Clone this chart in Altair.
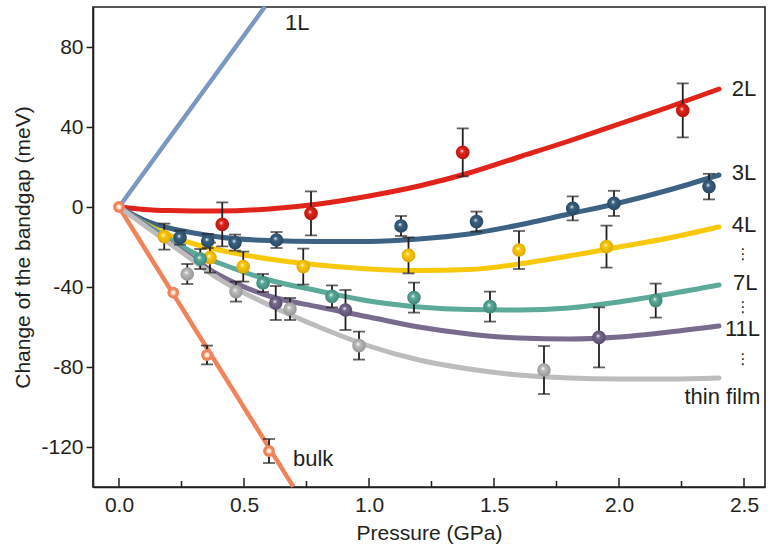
import altair as alt
import pandas as pd

# ---------------- data ----------------
curve_x = [0, 0.1, 0.2, 0.3, 0.4, 0.6, 0.8, 1.0, 1.2, 1.4, 1.6, 1.8, 2.0, 2.2, 2.4]
curve_2L = [0, -1.2, -1.8, -2, -2, -1, 1.5, 5.5, 10.5, 17, 25, 33, 41.5, 50, 59]
curve_3L = [0, -6.5, -10.5, -13, -15, -16.8, -17.3, -17.2, -16, -13.5, -9, -3.5, 2, 8.5, 16]
curve_4L = [0, -8, -14, -18.5, -21.5, -26, -29, -31, -31.8, -31.3, -28.5, -24.5, -20, -15.5, -10]
curve_7L = [0, -8, -16, -23, -28, -36.5, -42, -47, -50, -51.3, -51.5, -50.5, -47.5, -43.5, -39]
curve_11L = [0, -8.5, -17.5, -26, -34, -44.5, -50, -55, -60, -63.5, -65.5, -66, -65, -62.5, -59.5]
curve_film = [0, -9, -18, -27, -36, -49, -60, -69.5, -76.5, -81, -84, -85.5, -86, -86, -85.5]

line_1L_x = [0, 0.58]
line_1L_y = [0, 99.5]
line_bulk_x = [0, 0.697]
line_bulk_y = [0, -139.8]

pts_2L_x = [0.413, 0.768, 1.375, 2.255]
pts_2L_y = [-8.7, -3.2, 27.3, 48.3]
pts_2L_e = [11, 11, 12, 13.5]

pts_3L_x = [0.244, 0.355, 0.464, 0.63, 1.128, 1.43, 1.815, 1.98, 2.36]
pts_3L_y = [-15.3, -17, -17.8, -16.5, -9.5, -7.3, -0.7, 1.8, 10.2]
pts_3L_e = [3.5, 3.5, 4, 4, 5, 5, 6, 6.3, 6.4]

pts_4L_x = [0.181, 0.364, 0.497, 0.737, 1.158, 1.6, 1.95]
pts_4L_y = [-14.8, -25.3, -29.8, -29.8, -24.2, -21.5, -19.8]
pts_4L_e = [6.5, 7.5, 7.5, 9, 9, 9.5, 10.5]

pts_7L_x = [0.325, 0.576, 0.852, 1.18, 1.484, 2.147]
pts_7L_y = [-26, -38, -44.7, -45.3, -49.8, -46.8]
pts_7L_e = [5, 4.5, 5.5, 7.5, 7.5, 8.5]

pts_11L_x = [0.627, 0.906, 1.92]
pts_11L_y = [-48, -51.5, -65.2]
pts_11L_e = [8.5, 10, 15]

pts_film_x = [0.273, 0.468, 0.684, 0.96, 1.7]
pts_film_y = [-33.5, -42.3, -51, -69.3, -81.5]
pts_film_e = [5, 5, 5.5, 7, 12]

pts_bulk_x = [0, 0.217, 0.352, 0.6]
pts_bulk_y = [0, -42.8, -74, -122]
pts_bulk_e = [0, 0, 4.7, 6]

label_text = ["1L", "2L", "3L", "4L", "7L", "11L", "thin film", "bulk"]
label_x = [0.664, 2.451, 2.451, 2.451, 2.456, 2.424, 2.262, 0.696]
label_y = [91.8, 59, 17.2, -9, -38.2, -61, -95.2, -126]

dots_x = [2.496, 2.496, 2.496]
dots_y = [-23.5, -50, -76]

x_major = [0, 0.5, 1.0, 1.5, 2.0, 2.5]
x_minor = [0.25, 0.75, 1.25, 1.75, 2.25]
y_ticks = [-120, -80, -40, 0, 40, 80]

series = ["2L", "3L", "4L", "7L", "11L", "thin film"]
line_colors = ["#e2231a", "#3d6283", "#f8c90a", "#5daa9b", "#786b8e", "#bcbcbc"]
ball_dark = ["#a8140e", "#22405a", "#d9a000", "#367d70", "#4f4466", "#8c8c8c"]
color_1L = "#7b98c2"
color_bulk = "#ef835a"
ink = "#231f20"

# ---------------- geometry ----------------
W, H = 672, 480
xs = alt.Scale(domain=[-0.104, 2.584], nice=False, zero=False)
ys = alt.Scale(domain=[-140, 100], nice=False, zero=False)
FONT = "Liberation Sans"

curves = [curve_2L, curve_3L, curve_4L, curve_7L, curve_11L, curve_film]
cdf = pd.DataFrame(
    [{"s": s, "x": x, "y": y} for s, c in zip(series, curves) for x, y in zip(curve_x, c)]
)

X = alt.X("x:Q", scale=xs, axis=alt.Axis(
    values=x_major, format=".1f", ticks=False, labelPadding=7,
    title="Pressure (GPa)", titleY=46, titleBaseline="middle"))
Y = alt.Y("y:Q", scale=ys, axis=alt.Axis(
    values=y_ticks, tickSize=7, labelPadding=3, labelExpr="'' + datum.value",
    title="Change of the bandgap (meV)", titleX=-70, titleY=240,
    titleBaseline="middle", titleAlign="center"))

layers = []

lines_1L = alt.Chart(pd.DataFrame({"x": line_1L_x, "y": line_1L_y})).mark_line(
    color=color_1L, strokeWidth=4.5, strokeCap="round").encode(x=X, y=Y)
lines_bulk = alt.Chart(pd.DataFrame({"x": line_bulk_x, "y": line_bulk_y})).mark_line(
    color=color_bulk, strokeWidth=4.5, strokeCap="butt").encode(x="x:Q", y="y:Q")
layers += [lines_1L, lines_bulk]

curve_layer = alt.Chart(cdf).mark_line(
    strokeWidth=5, interpolate="monotone", strokeCap="round").encode(
    x="x:Q", y="y:Q",
    color=alt.Color("s:N", scale=alt.Scale(domain=series, range=line_colors), legend=None))
layers.append(curve_layer)

pts = {
    "2L": (pts_2L_x, pts_2L_y, pts_2L_e),
    "3L": (pts_3L_x, pts_3L_y, pts_3L_e),
    "4L": (pts_4L_x, pts_4L_y, pts_4L_e),
    "7L": (pts_7L_x, pts_7L_y, pts_7L_e),
    "11L": (pts_11L_x, pts_11L_y, pts_11L_e),
    "thin film": (pts_film_x, pts_film_y, pts_film_e),
    "bulk": (pts_bulk_x, pts_bulk_y, pts_bulk_e),
}
rows = []
for s, (px, py, pe) in pts.items():
    for x, y, e in zip(px, py, pe):
        rows.append({"s": s, "x": x, "y": y, "lo": y - e, "hi": y + e, "e": e})
pdf = pd.DataFrame(rows)
edf = pdf[pdf["e"] > 0]

err_rule = alt.Chart(edf).mark_rule(color=ink, strokeWidth=1.8).encode(
    x="x:Q", y="lo:Q", y2="hi:Q")
cap_lo = alt.Chart(edf).mark_tick(color=ink, thickness=1.8, size=12, orient="horizontal").encode(
    x="x:Q", y="lo:Q")
cap_hi = alt.Chart(edf).mark_tick(color=ink, thickness=1.8, size=12, orient="horizontal").encode(
    x="x:Q", y="hi:Q")
layers += [err_rule, cap_lo, cap_hi]


def ball(base, dark):
    return alt.RadialGradient(
        gradient="radial", x1=0.42, y1=0.38, r1=0.0, x2=0.5, y2=0.5, r2=0.62,
        stops=[alt.GradientStop(offset=0.0, color="#ffffff"),
               alt.GradientStop(offset=0.25, color=base),
               alt.GradientStop(offset=1.0, color=dark)])


for s, base, dark in zip(series, line_colors, ball_dark):
    layers.append(
        alt.Chart(pdf[pdf["s"] == s]).mark_point(
            shape="circle", filled=True, size=185, opacity=1,
            fill=ball(base, dark), strokeWidth=0).encode(x="x:Q", y="y:Q"))

bulk_pts = alt.Chart(pdf[pdf["s"] == "bulk"]).mark_point(
    shape="circle", filled=True, size=140, opacity=1,
    fill=alt.RadialGradient(
        gradient="radial", x1=0.5, y1=0.5, r1=0, x2=0.5, y2=0.5, r2=0.5,
        stops=[alt.GradientStop(offset=0.0, color="#ffffff"),
               alt.GradientStop(offset=0.35, color="#fbd6c8"),
               alt.GradientStop(offset=0.55, color=color_bulk),
               alt.GradientStop(offset=1.0, color=color_bulk)]),
    strokeWidth=0).encode(x="x:Q", y="y:Q")
layers.append(bulk_pts)

ldf = pd.DataFrame({"t": label_text, "x": label_x, "y": label_y})
labels = alt.Chart(ldf).mark_text(
    align="left", baseline="middle", font=FONT, fontSize=22, color=ink).encode(
    x="x:Q", y="y:Q", text="t:N")
ddf = pd.DataFrame({"x": dots_x, "y": dots_y, "t": ["⋮"] * len(dots_x)})
dots = alt.Chart(ddf).mark_text(
    align="center", baseline="middle", font="DejaVu Sans", fontSize=15, color=ink).encode(
    x="x:Q", y="y:Q", text="t:N")
layers += [labels, dots]

tdf = pd.DataFrame({"x": x_major + x_minor, "len": [9] * len(x_major) + [6] * len(x_minor)})
ticks_major = alt.Chart(tdf[tdf["len"] == 9]).mark_rule(color=ink, strokeWidth=1.5).encode(
    x="x:Q", y=alt.value(H), y2=alt.value(H - 9))
ticks_minor = alt.Chart(tdf[tdf["len"] == 6]).mark_rule(color=ink, strokeWidth=1.5).encode(
    x="x:Q", y=alt.value(H), y2=alt.value(H - 6))
layers += [ticks_major, ticks_minor]

chart = alt.layer(*layers).properties(
    width=W, height=H,
    autosize=alt.AutoSizeParams(type="none"),
    padding={"left": 93, "top": 7, "right": 6, "bottom": 70},
    background="white",
).configure_view(
    stroke=ink, strokeWidth=1.6
).configure_axis(
    grid=False, domainColor=ink, domainWidth=1.6, tickColor=ink, tickWidth=1.5,
    labelFont=FONT, labelFontSize=21, labelColor=ink,
    titleFont=FONT, titleFontSize=21, titleFontWeight="normal", titleColor=ink,
)

chart.save("out.html", embed_options={"renderer": "svg", "actions": False})
